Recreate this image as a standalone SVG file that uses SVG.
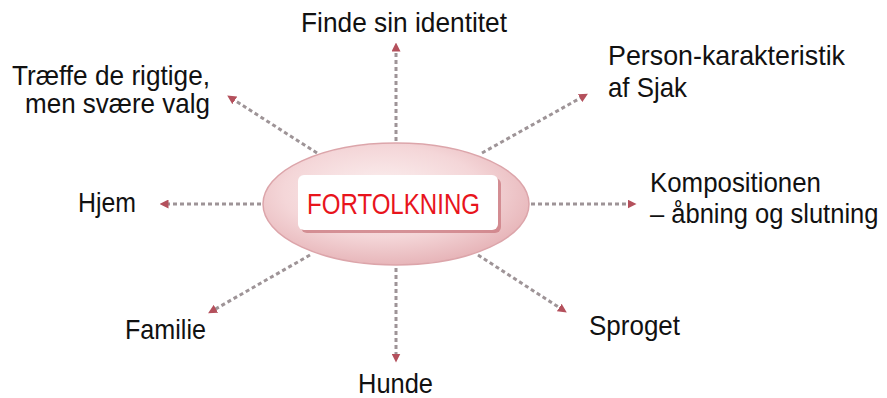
<svg xmlns="http://www.w3.org/2000/svg" width="887" height="398" viewBox="0 0 887 398">
<defs>
<radialGradient id="eg" cx="0.45" cy="0.4" r="0.62">
<stop offset="0" stop-color="#fcf2f2"/>
<stop offset="0.6" stop-color="#f4d6d8"/>
<stop offset="1" stop-color="#e6b3b7"/>
</radialGradient>
<marker id="ah" viewBox="0 0 10 10" refX="5" refY="5" markerWidth="9" markerHeight="9" markerUnits="userSpaceOnUse" orient="auto">
<path d="M0,0 L10,5 L0,10 Z" fill="#b4505c"/>
</marker>
<style>
.lbl{font-family:"Liberation Sans",Arial,sans-serif;font-size:28px;fill:#111}
.con{stroke:#9e9497;stroke-width:3;stroke-dasharray:4 3;fill:none;marker-end:url(#ah)}
</style>
</defs>
<rect width="887" height="398" fill="#ffffff"/>
<g id="connectors">
<line class="con" x1="396" y1="141" x2="396" y2="47"/>
<line class="con" x1="396" y1="268" x2="396" y2="358"/>
<line class="con" x1="261" y1="204" x2="164" y2="204"/>
<line class="con" x1="531" y1="204" x2="632" y2="204"/>
<line class="con" x1="317" y1="153" x2="231" y2="98"/>
<line class="con" x1="482" y1="153" x2="584" y2="96"/>
<line class="con" x1="310" y1="255" x2="212" y2="311"/>
<line class="con" x1="478" y1="255" x2="563" y2="310"/>
</g>
<g id="center">
<ellipse cx="396" cy="204" rx="133" ry="61" fill="url(#eg)" stroke="#dca5aa" stroke-width="1.5"/>
<rect x="301" y="178" width="200" height="55" rx="6" fill="#c9787f" opacity="0.75"/>
<rect x="298" y="175" width="200" height="55" rx="6" fill="#ffffff"/>
<text x="307" y="214" font-family="Liberation Sans,Arial,sans-serif" font-size="29" fill="#e8141c" textLength="173" lengthAdjust="spacingAndGlyphs">FORTOLKNING</text>
</g>
<g id="n-finde"><text class="lbl" x="301" y="32" textLength="206" lengthAdjust="spacingAndGlyphs">Finde sin identitet</text></g>
<g id="n-traeffe">
<text class="lbl" x="12" y="85" textLength="198" lengthAdjust="spacingAndGlyphs">Træffe de rigtige,</text>
<text class="lbl" x="25" y="113" textLength="185" lengthAdjust="spacingAndGlyphs">men svære valg</text>
</g>
<g id="n-person">
<text class="lbl" x="608" y="65" textLength="237" lengthAdjust="spacingAndGlyphs">Person-karakteristik</text>
<text class="lbl" x="608" y="97" textLength="79" lengthAdjust="spacingAndGlyphs">af Sjak</text>
</g>
<g id="n-komp">
<text class="lbl" x="650" y="192" textLength="171" lengthAdjust="spacingAndGlyphs">Kompositionen</text>
<text class="lbl" x="0" y="0" transform="translate(650,223) scale(0.912,1)">– åbning og slutning</text>
</g>
<g id="n-hjem"><text class="lbl" x="78" y="212" textLength="58" lengthAdjust="spacingAndGlyphs">Hjem</text></g>
<g id="n-familie"><text class="lbl" x="125" y="339" textLength="81" lengthAdjust="spacingAndGlyphs">Familie</text></g>
<g id="n-sproget"><text class="lbl" x="589" y="335" textLength="91" lengthAdjust="spacingAndGlyphs">Sproget</text></g>
<g id="n-hunde"><text class="lbl" x="358" y="393" textLength="75" lengthAdjust="spacingAndGlyphs">Hunde</text></g>
</svg>
